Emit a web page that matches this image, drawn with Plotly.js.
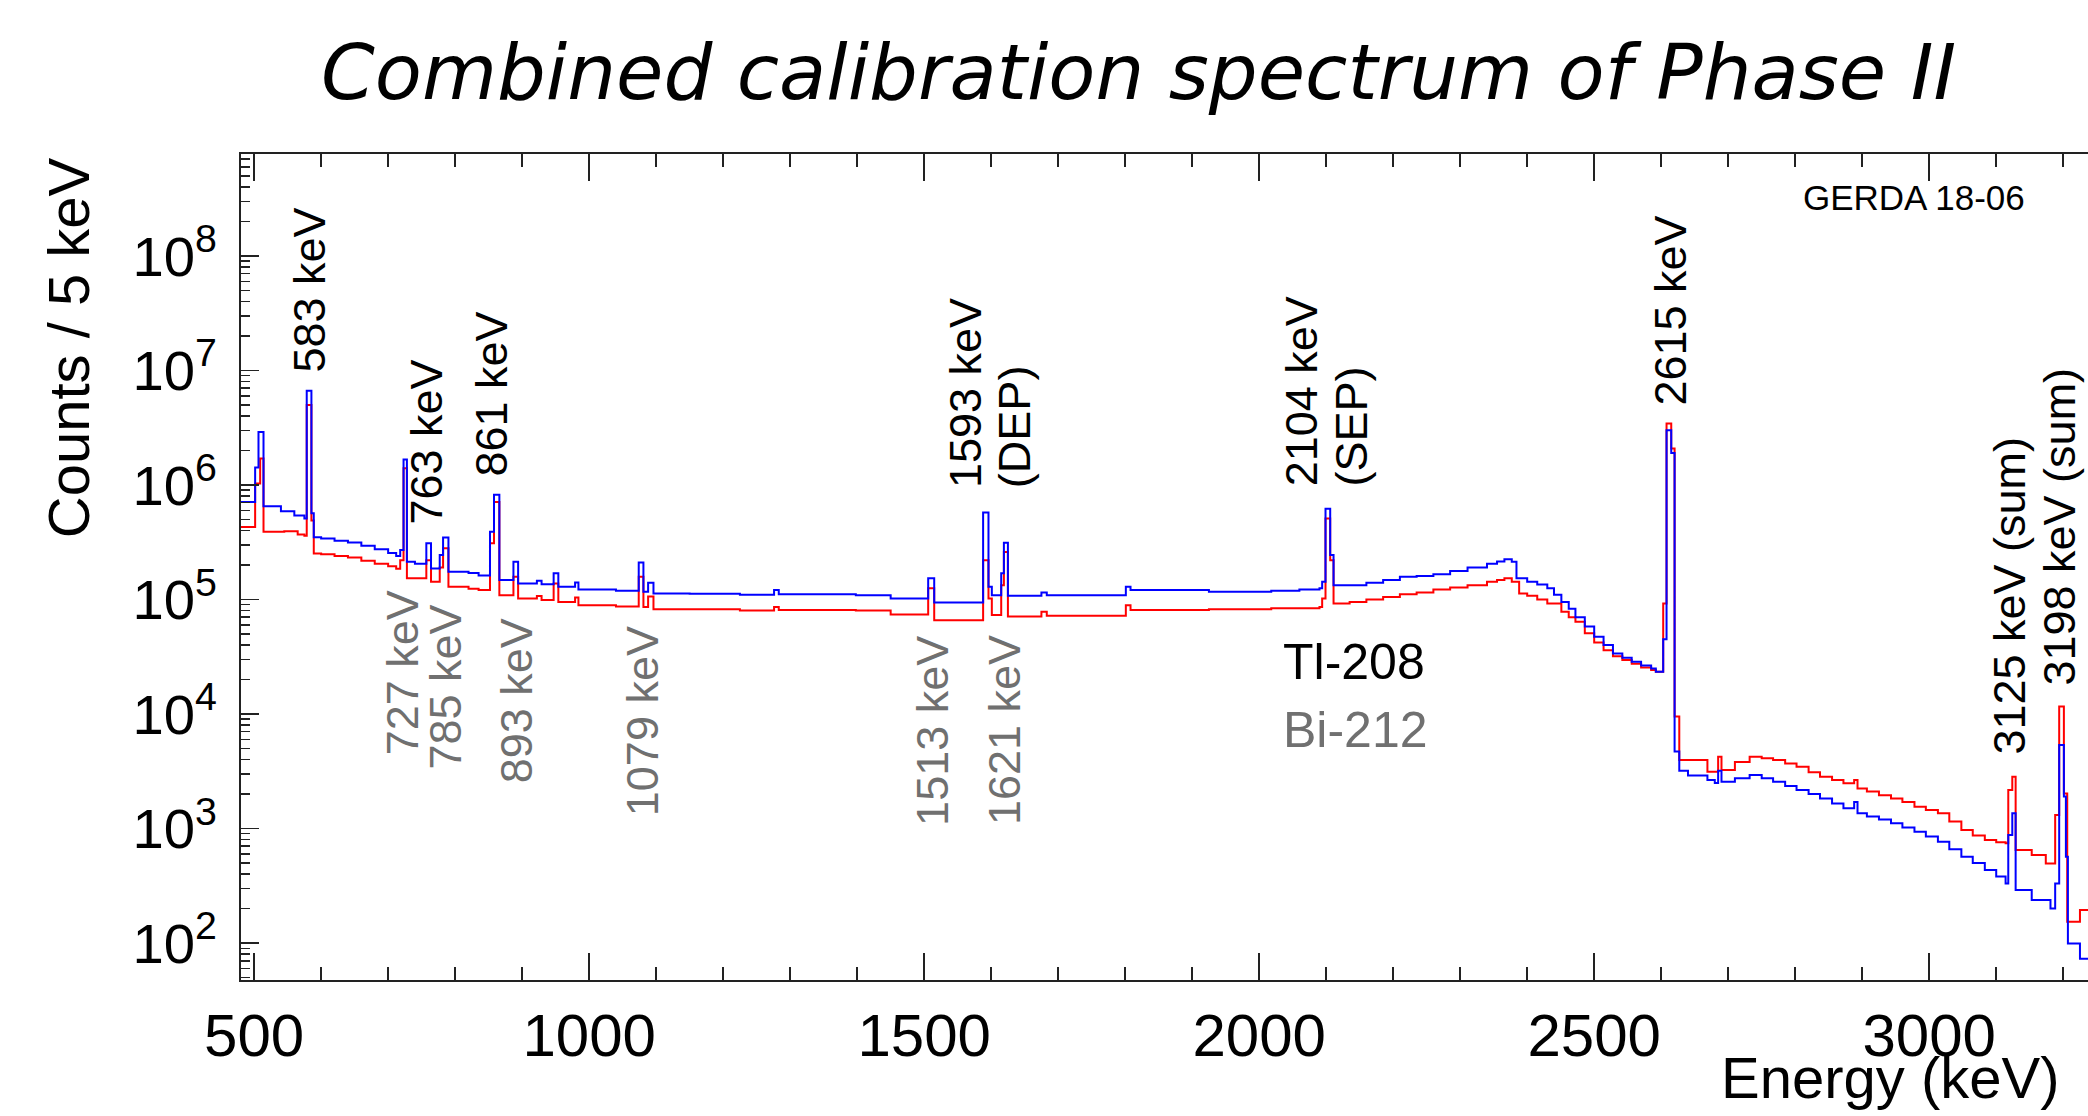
<!DOCTYPE html>
<html>
<head>
<meta charset="utf-8">
<script src="https://cdn.plot.ly/plotly-3.0.1.min.js"></script>
<style>html,body{margin:0;padding:0;background:#fff;overflow:hidden;}#chart{width:2088px;height:1116px;}</style>
</head>
<body>
<div id="chart"></div>
<script>
// ---- data (bin left edges in keV, counts per 5 keV) ----
const energyBlue = [480,501.5,506.5,514,540,560,575,578.5,585.5,589,600,620,640,660,680,700,712,718,723,728,740,757,764,777,782,790,820,835,852,858,866,887,894,922,929,947,954,979,984,1040,1074,1081,1088,1096,1150,1225,1276,1283,1398,1450,1506,1515,1588,1596,1601,1615,1619,1625,1675,1683,1801,1808,1925,2018,2060,2090,2094,2099,2106,2111,2135,2160,2185,2210,2235,2260,2285,2311,2340,2355,2366,2377,2384,2400,2415,2430,2440,2451,2462,2472,2486,2500,2514,2528,2542,2556,2570,2585,2592,2603,2608,2615,2620,2627,2640,2669,2680,2685,2690,2710,2732,2750,2767,2785,2802,2820,2837,2855,2872,2888,2893,2907,2925,2943,2960,2978,2995,3013,3030,3048,3065,3083,3100,3114,3118,3124,3129,3153,3181,3188,3194,3201,3204,3207,3225,3237];
const countsBlue = [7.1e5,1.42e6,2.9e6,6.5e5,5.9e5,5.4e5,5.1e5,6.65e6,5.65e5,3.5e5,3.4e5,3.25e5,3.15e5,2.95e5,2.75e5,2.55e5,2.4e5,2.7e5,1.67e6,2.14e5,2.05e5,3.1e5,1.86e5,2.45e5,3.48e5,1.75e5,1.7e5,1.62e5,3.9e5,8.2e5,1.48e5,2.14e5,1.38e5,1.46e5,1.36e5,1.69e5,1.29e5,1.41e5,1.22e5,1.19e5,2.1e5,1.17e5,1.4e5,1.13e5,1.12e5,1.1e5,1.21e5,1.11e5,1.09e5,1.02e5,1.53e5,9.4e4,5.75e5,1.29e5,1.09e5,1.69e5,3.13e5,1.08e5,1.15e5,1.09e5,1.29e5,1.21e5,1.17e5,1.19e5,1.22e5,1.25e5,1.43e5,6.2e5,2.44e5,1.33e5,1.33e5,1.4e5,1.48e5,1.58e5,1.6e5,1.66e5,1.77e5,1.9e5,2.05e5,2.15e5,2.24e5,2.14e5,1.53e5,1.43e5,1.35e5,1.25e5,1.1e5,9.5e4,8.3e4,7.0e4,5.8e4,4.73e4,4.0e4,3.38e4,3.1e4,2.86e4,2.65e4,2.5e4,2.34e4,4.5e4,3.0e6,1.9e6,4.7e3,3.2e3,2.9e3,2.65e3,2.5e3,3.2e3,2.56e3,2.75e3,2.93e3,2.75e3,2.56e3,2.35e3,2.17e3,2.0e3,1.83e3,1.65e3,1.5e3,1.7e3,1.36e3,1.27e3,1.2e3,1.11e3,1.02e3,937,850,766,660,566,500,434,380,331,877,1360,290,237,200,331,5360,1900,566,99,73,73];

const energyRed = [480,501.5,509,514,545,565,575,578.5,585.5,589,600,620,640,660,680,700,712,718,723,728,757,764,777,782,790,820,835,852,858,866,887,894,922,929,947,954,979,984,1040,1074,1081,1088,1096,1225,1276,1283,1398,1450,1506,1515,1588,1596,1601,1615,1619,1625,1675,1683,1801,1808,1925,2018,2090,2094,2099,2106,2111,2135,2160,2185,2210,2235,2260,2285,2311,2340,2355,2366,2377,2388,2400,2415,2430,2451,2462,2472,2486,2500,2514,2528,2542,2556,2570,2585,2592,2603,2608,2615,2620,2627,2669,2685,2690,2710,2732,2750,2767,2785,2802,2820,2837,2855,2872,2888,2893,2907,2925,2943,2960,2978,2995,3013,3030,3048,3065,3083,3100,3114,3118,3124,3129,3153,3174,3188,3194,3201,3206,3225,3237];
const countsRed = [4.3e5,1.03e6,1.7e6,3.9e5,3.95e5,3.7e5,3.6e5,5.0e6,4.9e5,2.52e5,2.48e5,2.4e5,2.32e5,2.18e5,2.05e5,1.95e5,1.85e5,2.2e5,1.4e6,1.53e5,2.2e5,1.43e5,1.9e5,2.8e5,1.29e5,1.24e5,1.21e5,3.1e5,7.1e5,1.09e5,1.58e5,1.02e5,1.07e5,9.9e4,1.38e5,9.5e4,1.04e5,8.9e4,8.7e4,1.58e5,8.6e4,1.06e5,8.2e4,8.0e4,8.6e4,8.1e4,8.0e4,7.4e4,1.25e5,6.6e4,2.2e5,1.02e5,7.3e4,1.33e5,2.6e5,7.1e4,7.8e4,7.2e4,8.9e4,8.1e4,8.2e4,8.4e4,8.6e4,1.02e5,5.1e5,2.2e5,9.2e4,9.5e4,1.0e5,1.05e5,1.11e5,1.15e5,1.22e5,1.27e5,1.33e5,1.43e5,1.48e5,1.53e5,1.43e5,1.13e5,1.08e5,1.0e5,9.2e4,7.8e4,7.0e4,6.4e4,5.06e4,4.2e4,3.6e4,3.2e4,2.96e4,2.75e4,2.55e4,2.42e4,2.34e4,9.2e4,3.44e6,2.08e6,9.5e3,3.96e3,3.13e3,4.24e3,3.24e3,3.8e3,4.24e3,4.1e3,3.96e3,3.7e3,3.46e3,3.1e3,2.83e3,2.65e3,2.48e3,2.65e3,2.24e3,2.1e3,1.95e3,1.83e3,1.7e3,1.55e3,1.45e3,1.36e3,1.15e3,968,870,792,760,742,2170,2830,648,586,495,1310,11600,2020,153,194,194];

// peak labels (Tl-208 in black, Bi-212 in grey); energies in keV
const tlLabels = ['583 keV','763 keV','861 keV','1593 keV','(DEP)','2104 keV','(SEP)','2615 keV','3125 keV (sum)','3198 keV (sum)'];
const tlLabelEnergy = [582,758,855,1561,1635,2062.8,2137.6,2614,3120,3193];
const biLabels = ['727 keV','785 keV','893 keV','1079 keV','1513 keV','1621 keV'];
const biLabelEnergy = [722,785,892,1079,1511.5,1619];
const legendLabels = ['Tl-208','Bi-212'];

// ---- layout-only placement (paper y of the lower end of each rotated label) ----
const tlLabelBottom = [0.7324,0.5484,0.6077,0.5932,0.5932,0.5956,0.5956,0.6925,0.27,0.3535];
const biLabelBottom = [0.27,0.2518,0.236,0.196,0.184,0.185];

const FONT = 'Liberation Sans, Arial, Helvetica, sans-serif';
const traces = [
  {x: energyRed, y: countsRed, type:'scatter', mode:'lines', line:{shape:'hv', color:'#ff0000', width:2}, hoverinfo:'skip', showlegend:false},
  {x: energyBlue, y: countsBlue, type:'scatter', mode:'lines', line:{shape:'hv', color:'#0000ff', width:2}, hoverinfo:'skip', showlegend:false}
];

const annotations = [];
tlLabels.forEach((t,i)=>annotations.push({text:t, x:tlLabelEnergy[i], xref:'x', y:tlLabelBottom[i], yref:'paper', textangle:-90, xanchor:'center', yanchor:'bottom', showarrow:false, font:{family:FONT, size:45, color:'#000'}}));
biLabels.forEach((t,i)=>annotations.push({text:t, x:biLabelEnergy[i], xref:'x', y:biLabelBottom[i], yref:'paper', textangle:-90, xanchor:'center', yanchor:'bottom', showarrow:false, font:{family:FONT, size:45, color:'#707070'}}));
annotations.push({text:legendLabels[0], x:2033, xref:'x', y:0.385, yref:'paper', xanchor:'left', yanchor:'middle', showarrow:false, font:{family:FONT, size:50, color:'#000'}});
annotations.push({text:legendLabels[1], x:2033, xref:'x', y:0.3027, yref:'paper', xanchor:'left', yanchor:'middle', showarrow:false, font:{family:FONT, size:50, color:'#707070'}});
annotations.push({text:'GERDA 18-06', x:0.967, xref:'paper', y:0.9474, yref:'paper', xanchor:'right', yanchor:'middle', showarrow:false, font:{family:FONT, size:35, color:'#000'}});
annotations.push({text:'Counts / 5 keV', x:-0.0937, xref:'paper', y:0.766, yref:'paper', textangle:-90, xanchor:'center', yanchor:'middle', showarrow:false, font:{family:FONT, size:58, color:'#000'}});
annotations.push({text:'Energy (keV)', x:0.8928, xref:'paper', y:-0.118, yref:'paper', xanchor:'center', yanchor:'middle', showarrow:false, font:{family:FONT, size:58, color:'#000'}});

const layout = {
  width:2088, height:1116,
  margin:{l:241, r:0, t:154, b:136, pad:0},
  paper_bgcolor:'#fff', plot_bgcolor:'#fff',
  title:{text:'Combined calibration spectrum of Phase II', font:{family:'DejaVu Sans', size:77, style:'italic', color:'#000'}, x:0.5453, xref:'container', xanchor:'center', y:0.9355, yref:'container', yanchor:'middle'},
  xaxis:{range:[480.4,3237], showgrid:false, zeroline:false, showline:true, linecolor:'#222', linewidth:2, mirror:'ticks',
    ticks:'inside', ticklen:27, tickwidth:1.5, tickcolor:'#222', tick0:0, dtick:500,
    minor:{dtick:100, ticks:'inside', ticklen:13, tickwidth:1.5, tickcolor:'#222', showgrid:false},
    tickfont:{family:FONT, size:60, color:'#000'}, ticklabelstandoff:2},
  yaxis:{type:'log', range:[1.677,8.89], showgrid:false, zeroline:false, showline:true, linecolor:'#222', linewidth:2, mirror:false,
    ticks:'inside', ticklen:18, tickwidth:1.5, tickcolor:'#222', dtick:1, exponentformat:'power',
    minor:{dtick:'D1', ticks:'inside', ticklen:9, tickwidth:1.5, tickcolor:'#222', showgrid:false},
    tickfont:{family:FONT, size:45, color:'#000'}, ticklabelstandoff:13},
  annotations:annotations
};
Plotly.newPlot('chart', traces, layout, {staticPlot:true, displayModeBar:false});
</script>
</body>
</html>
